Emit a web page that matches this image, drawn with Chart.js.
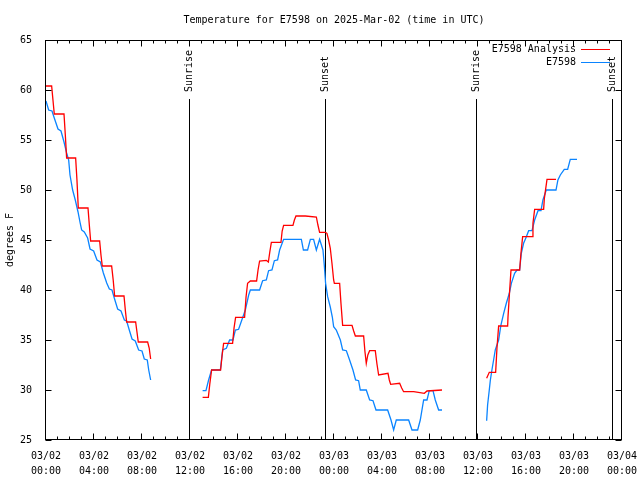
<!DOCTYPE html>
<html>
<head>
<meta charset="utf-8">
<script src="https://cdn.jsdelivr.net/npm/chart.js@4.4.1/dist/chart.umd.min.js"></script>
<style>
html,body{margin:0;padding:0;background:#fff;}
#c{display:block;}
</style>
</head>
<body>
<canvas id="c" width="640" height="480"></canvas>
<script>
// ---- data (hours since 2025-03-02 00:00 UTC, degrees F); null marks a gap ----
const analysisHours = [
  0,0.47,0.58,0.69,1.5,1.61,1.72,2.47,2.58,2.69,3.5,3.61,3.72,4.47,4.58,4.69,5.47,5.6,5.72,6.5,6.61,6.72,7.47,7.58,7.69,8.47,8.6,8.72,
  10.9,
  13.05,13.53,13.65,13.8,14.55,14.67,14.8,15.55,15.67,15.8,16.55,16.67,16.8,17.03,17.55,17.67,17.8,18.36,18.53,18.65,18.78,19.58,19.68,19.8,20.58,20.7,20.83,21.61,22.53,22.66,22.8,23.28,23.41,23.55,23.69,23.83,23.97,24.03,24.47,24.58,24.72,25.5,25.64,25.78,26.47,26.58,26.69,26.82,26.97,27.44,27.58,27.72,28.5,28.61,28.72,29.47,29.64,29.8,30.64,31.53,31.75,33.0,
  34.8,
  36.72,36.94,37.47,37.58,37.72,38.47,38.5,38.64,38.75,39.47,39.58,39.72,40.5,40.58,40.72,41.47,41.53,41.75,42.5
];
const analysisTemps = [
  60.4,60.4,59.0,57.6,57.6,55.5,53.2,53.2,51.0,48.2,48.2,46.5,44.9,44.9,43.5,42.4,42.4,41.0,39.4,39.4,38.0,36.8,36.8,35.8,34.8,34.8,34.2,33.1,
  null,
  29.27,29.27,30.6,32.0,32.0,33.4,34.67,34.67,36.2,37.27,37.27,39.3,40.67,40.9,40.9,42.0,42.9,42.97,42.8,43.8,44.77,44.77,45.9,46.47,46.47,47.0,47.4,47.4,47.3,46.5,45.77,45.77,45.67,45.0,44.17,42.67,41.0,40.67,40.67,38.67,36.47,36.47,35.9,35.4,35.4,33.83,32.67,33.5,33.93,33.93,32.6,31.5,31.67,31.0,30.57,30.67,30.2,29.83,29.83,29.67,29.9,30.0,
  null,
  31.17,31.77,31.77,34.17,36.4,36.4,37.3,40.0,42.0,42.0,43.67,45.33,45.33,46.67,48.07,48.07,49.17,51.07,51.07
];
const obsHours = [
  0,0.22,0.5,0.69,1.0,1.25,1.5,1.72,1.89,2.0,2.22,2.44,2.67,2.83,2.97,3.19,3.47,3.67,3.97,4.25,4.53,4.78,5.06,5.28,5.5,5.69,5.97,6.25,6.53,6.72,6.94,7.17,7.44,7.72,8.0,8.19,8.44,8.56,8.72,
  10.9,
  13.05,13.33,13.55,13.8,14.53,14.72,15.03,15.3,15.58,15.78,16.05,16.61,16.89,17.03,17.8,18.05,18.36,18.55,18.83,19.03,19.3,19.47,19.8,21.28,21.45,21.8,22.03,22.3,22.53,22.8,23.08,23.19,23.3,23.47,23.69,23.86,23.97,24.19,24.53,24.72,25.03,25.3,25.58,25.8,26.05,26.19,26.69,26.97,27.25,27.5,28.47,28.75,28.97,29.19,30.22,30.5,30.97,31.19,31.47,31.75,31.94,32.25,32.44,32.72,33.0,
  34.8,
  36.72,36.8,36.94,37.03,37.16,37.3,37.44,37.72,37.91,38.14,38.36,38.61,38.78,39.05,39.25,39.47,39.61,39.8,40.03,40.22,40.5,40.72,41.0,41.25,41.41,41.69,42.5,42.66,42.86,43.19,43.47,43.69,44.25
];
const obsTemps = [
  58.9,58.0,57.9,57.2,56.1,55.9,54.8,53.7,53.0,51.5,50.0,49.0,47.8,46.8,46.0,45.8,45.2,44.1,43.9,43.0,42.8,41.7,40.7,40.1,40.0,39.2,38.1,37.9,37.0,36.9,36.0,35.1,34.9,34.0,33.9,33.1,33.0,32.0,31.0,
  null,
  29.93,29.93,31.0,32.0,32.0,34.0,34.17,35.0,35.0,36.0,36.07,38.0,39.5,40.0,40.0,40.93,41.0,41.93,42.0,42.93,43.0,44.0,45.07,45.07,44.0,44.0,45.07,45.07,44.0,45.07,44.0,42.5,40.67,39.33,38.3,37.3,36.33,36.0,35.0,34.0,33.93,33.0,32.0,31.0,30.93,30.0,30.0,29.0,28.93,28.0,28.0,27.0,26.0,27.0,27.0,26.0,26.0,27.0,29.0,29.0,29.93,29.93,29.0,28.0,28.0,
  null,
  26.93,28.5,30.0,31.0,32.0,33.0,34.0,35.0,36.5,37.67,38.67,39.67,40.67,41.67,42.0,42.0,43.67,44.67,45.33,45.93,45.93,47.0,47.93,47.93,49.0,50.0,50.0,51.0,51.5,52.07,52.07,53.07,53.07
];
const seriesNames = ['E7598 Analysis', 'E7598'];
const seriesColors = ['#ff0000', '#0a84ff'];
const xTickLabels = [
  ['03/02','00:00'],['03/02','04:00'],['03/02','08:00'],['03/02','12:00'],['03/02','16:00'],['03/02','20:00'],
  ['03/03','00:00'],['03/03','04:00'],['03/03','08:00'],['03/03','12:00'],['03/03','16:00'],['03/03','20:00'],['03/04','00:00']
];
const sunHours = [11.94, 23.22, 35.83, 47.17];
const sunLabels = ['Sunrise', 'Sunset', 'Sunrise', 'Sunset'];
const titleText = 'Temperature for E7598 on 2025-Mar-02 (time in UTC)';
const yTitle = 'degrees F';

const FONT = "'DejaVu Sans Mono', 'Liberation Mono', monospace";

const toPoints = (hs, ts) => hs.map((h, i) => ({x: h, y: ts[i]}));

const decor = {
  id: 'decor',
  beforeDraw(chart) {
    const ctx = chart.ctx;
    ctx.save();
    ctx.fillStyle = '#fff';
    ctx.fillRect(0, 0, chart.width, chart.height);
    ctx.restore();
  },
  beforeDatasetsDraw(chart) {
    const {ctx, chartArea: a, scales: {x}} = chart;
    ctx.save();
    ctx.strokeStyle = '#000';
    ctx.lineWidth = 1;
    ctx.font = '10px ' + FONT;
    ctx.fillStyle = '#000';
    sunHours.forEach((h, i) => {
      const px = Math.round(x.getPixelForValue(h)) + 0.5;
      ctx.beginPath();
      ctx.moveTo(px, 99);
      ctx.lineTo(px, a.bottom);
      ctx.stroke();
      ctx.save();
      ctx.translate(px, 92);
      ctx.rotate(-Math.PI / 2);
      ctx.textAlign = 'left';
      ctx.textBaseline = 'middle';
      ctx.fillText(sunLabels[i], 0, 0);
      ctx.restore();
    });
    ctx.restore();
  },
  afterDraw(chart) {
    const {ctx, chartArea: a, scales: {x, y}} = chart;
    ctx.save();
    ctx.strokeStyle = '#000';
    ctx.lineWidth = 1;
    const L = Math.round(a.left) - 0.5, R = Math.round(a.right) - 0.5;
    const T = Math.round(a.top) + 0.5, B = Math.round(a.bottom) - 0.5;
    ctx.strokeRect(L, T, R - L, B - T);
    ctx.beginPath();
    for (let h = 0; h <= 48; h++) {
      const px = Math.round(x.getPixelForValue(h)) - 0.5;
      const len = (h % 4 === 0) ? 6 : 3;
      ctx.moveTo(px, B); ctx.lineTo(px, B - len);
      ctx.moveTo(px, T); ctx.lineTo(px, T + len);
    }
    for (let v = 25; v <= 65; v += 5) {
      const py = Math.round(y.getPixelForValue(v)) + 0.5;
      ctx.moveTo(L, py); ctx.lineTo(L + 6, py);
      ctx.moveTo(R, py); ctx.lineTo(R - 6, py);
    }
    ctx.stroke();

    ctx.font = '10px ' + FONT;
    ctx.textAlign = 'right';
    ctx.textBaseline = 'middle';
    const rows = [49.5, 62.5];
    seriesNames.forEach((n, i) => {
      ctx.fillStyle = '#000';
      ctx.fillText(n, 576, rows[i]);
      ctx.strokeStyle = seriesColors[i];
      ctx.lineWidth = 1;
      ctx.beginPath();
      ctx.moveTo(581, rows[i]);
      ctx.lineTo(610, rows[i]);
      ctx.stroke();
    });
    ctx.restore();
  }
};

new Chart(document.getElementById('c'), {
  type: 'line',
  data: {
    datasets: [
      {label: seriesNames[0], data: toPoints(analysisHours, analysisTemps), borderColor: seriesColors[0], borderWidth: 1.3, pointRadius: 0, fill: false, tension: 0, spanGaps: false},
      {label: seriesNames[1], data: toPoints(obsHours, obsTemps), borderColor: seriesColors[1], borderWidth: 1.3, pointRadius: 0, fill: false, tension: 0, spanGaps: false}
    ]
  },
  options: {
    responsive: false,
    animation: false,
    devicePixelRatio: 1,
    layout: {padding: {left: 0, right: 18, top: 0, bottom: 0}},
    plugins: {
      legend: {display: false},
      tooltip: {enabled: false},
      title: {
        display: true, text: titleText, color: '#000', fullSize: false,
        font: {family: FONT, size: 10, weight: 'normal', lineHeight: 1.2},
        padding: {top: 14, bottom: 14}
      }
    },
    scales: {
      x: {
        type: 'linear', min: 0, max: 48,
        grid: {display: false}, border: {display: false},
        afterFit: s => { s.height = 40; s.paddingLeft = 0; s.paddingRight = 0; },
        afterBuildTicks: s => { s.ticks = xTickLabels.map((_, i) => ({value: i * 4})); },
        ticks: {
          autoSkip: false, maxRotation: 0, color: '#000', padding: 1,
          font: {family: FONT, size: 10, lineHeight: 1.5},
          callback: v => xTickLabels[Math.round(v / 4)]
        }
      },
      y: {
        min: 25, max: 65,
        grid: {display: false}, border: {display: false},
        afterFit: s => { s.width = 46; s.paddingTop = 0; s.paddingBottom = 0; },
        ticks: {stepSize: 5, color: '#000', padding: 6, font: {family: FONT, size: 10}},
        title: {display: true, text: yTitle, color: '#000', font: {family: FONT, size: 10}, padding: 4}
      }
    }
  },
  plugins: [decor]
});
</script>
</body>
</html>
